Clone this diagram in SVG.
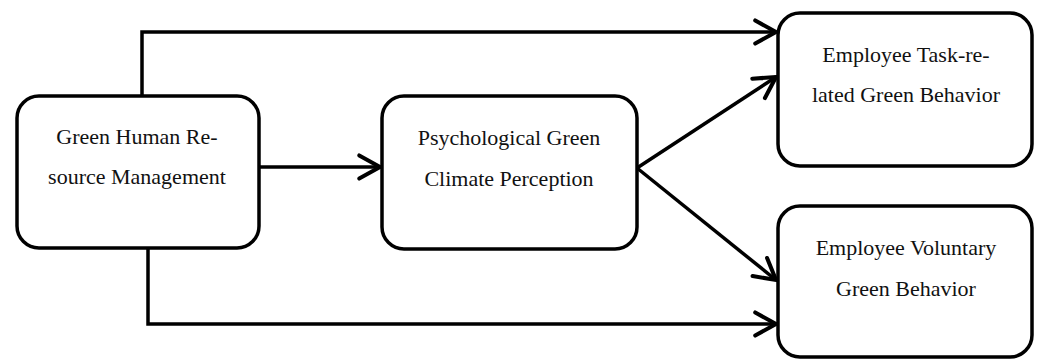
<svg xmlns="http://www.w3.org/2000/svg" width="1040" height="359" viewBox="0 0 1040 359">
<style>
.box{fill:#fff;stroke:#000;stroke-width:3.5}
.lbl{font-family:"Liberation Serif","Times New Roman",serif;font-size:22px;fill:#111;text-anchor:middle}
.con{fill:none;stroke:#000;stroke-width:3.5}
</style>
<defs>
<marker id="arr" markerUnits="userSpaceOnUse" markerWidth="30" markerHeight="30" viewBox="-22 -12 26 24" refX="0" refY="0" orient="auto">
<path d="M-18,-10 L0,0 L-18,10" fill="none" stroke="#000" stroke-width="3.5" stroke-linecap="round" stroke-linejoin="miter"/>
</marker>
</defs>
<rect width="1040" height="359" fill="#fff"/>
<g id="connectors">
<path class="con" d="M142,96 V32 H776" marker-end="url(#arr)"/>
<path class="con" d="M148,248 V324 H776" marker-end="url(#arr)"/>
<path class="con" d="M259,167 H380" marker-end="url(#arr)"/>
<path class="con" d="M637,168 L776,77" marker-end="url(#arr)"/>
<path class="con" d="M637,168 L776,280" marker-end="url(#arr)"/>
</g>
<g id="node-ghrm">
<rect class="box" x="17" y="96" width="242" height="152" rx="22"/>
<text class="lbl" x="137" y="144">Green Human Re-</text>
<text class="lbl" x="137" y="184">source Management</text>
</g>
<g id="node-pgcp">
<rect class="box" x="382" y="96" width="255" height="153" rx="22"/>
<text class="lbl" x="509" y="145">Psychological Green</text>
<text class="lbl" x="509" y="186">Climate Perception</text>
</g>
<g id="node-etgb">
<rect class="box" x="778" y="13" width="254" height="153" rx="22"/>
<text class="lbl" x="906" y="62">Employee Task-re-</text>
<text class="lbl" x="906" y="102">lated Green Behavior</text>
</g>
<g id="node-evgb">
<rect class="box" x="778" y="206" width="254" height="151" rx="22"/>
<text class="lbl" x="906" y="255">Employee Voluntary</text>
<text class="lbl" x="906" y="296">Green Behavior</text>
</g>
</svg>
